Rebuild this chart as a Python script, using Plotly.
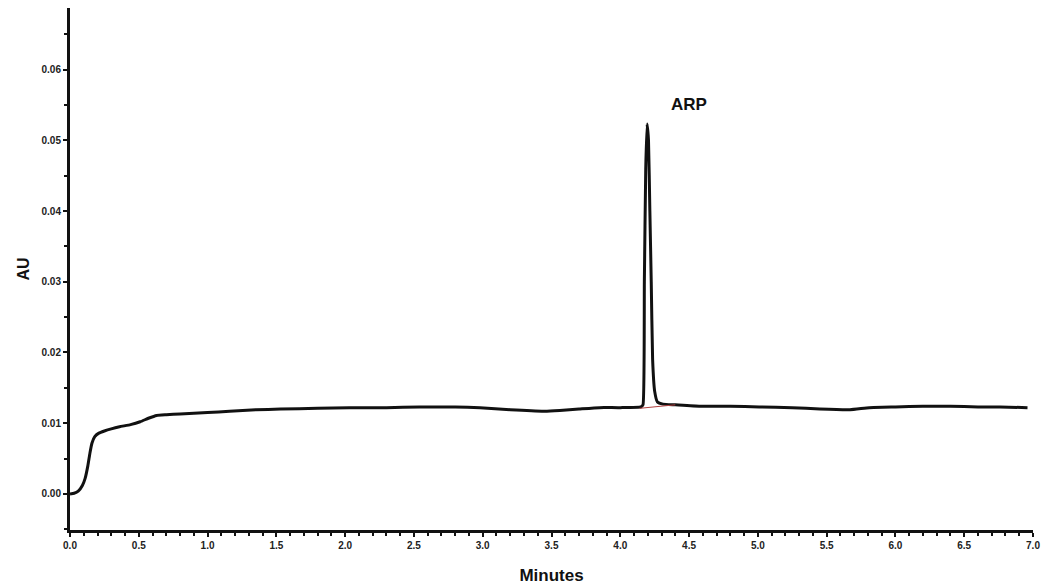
import plotly.graph_objects as go

# chromatogram trace
minutes = [0.0, 0.03, 0.06, 0.09, 0.11, 0.13, 0.145, 0.16, 0.18, 0.21, 0.25, 0.30, 0.36, 0.44,
           0.51, 0.57, 0.63, 0.70, 0.80, 1.0, 1.16, 1.35, 1.53, 1.8, 2.03, 2.3, 2.54, 2.8,
           2.98, 3.2, 3.45, 3.56, 3.7, 3.85, 4.0, 4.15, 4.165, 4.175, 4.185, 4.195, 4.205,
           4.215, 4.225, 4.235, 4.25, 4.27, 4.31, 4.40, 4.58, 4.8, 5.01, 5.25, 5.45, 5.67,
           5.81, 6.0, 6.2, 6.4, 6.6, 6.76, 6.96]
au = [0.0, 0.0001, 0.0004, 0.0012, 0.0022, 0.0040, 0.0058, 0.0072, 0.0081, 0.0086, 0.0089,
      0.0092, 0.0095, 0.0098, 0.0102, 0.0107, 0.0111, 0.0112, 0.0113, 0.0115, 0.0117, 0.0119,
      0.0120, 0.0121, 0.0122, 0.0122, 0.0123, 0.0123, 0.0122, 0.0119, 0.0117, 0.0118, 0.0120,
      0.0122, 0.0122, 0.0123, 0.0126, 0.0300, 0.0460, 0.0523, 0.0500, 0.0400, 0.0300, 0.0190,
      0.0145, 0.0130, 0.0127, 0.0126, 0.0124, 0.0124, 0.0123, 0.0122, 0.0120, 0.0119, 0.0122,
      0.0123, 0.0124, 0.0124, 0.0123, 0.0123, 0.0122]

# integration baseline under the ARP peak
base_x = [4.14, 4.40]
base_y = [0.0121, 0.0126]

x_ticks = [0.0, 0.5, 1.0, 1.5, 2.0, 2.5, 3.0, 3.5, 4.0, 4.5, 5.0, 5.5, 6.0, 6.5, 7.0]
y_ticks = [0.00, 0.01, 0.02, 0.03, 0.04, 0.05, 0.06]

fig = go.Figure()
fig.add_trace(go.Scatter(x=minutes, y=au, mode='lines',
                         line=dict(color='#111111', width=3, shape='spline', smoothing=0.4)))
fig.add_trace(go.Scatter(x=base_x, y=base_y, mode='lines',
                         line=dict(color='#b04040', width=1)))

fig.add_annotation(x=4.50, y=0.0551, text='<b>ARP</b>', showarrow=False,
                   font=dict(family='Arial, Liberation Sans', size=17, color='#111111'))

fig.update_layout(
    width=1045, height=587,
    showlegend=False,
    plot_bgcolor='white',
    paper_bgcolor='white',
    margin=dict(l=70, r=12, t=8, b=57),
    font=dict(family='Arial, Liberation Sans', color='#222222'),
    xaxis=dict(
        range=[0, 7.0], tickvals=x_ticks,
        ticktext=[f"<b>{v:.1f}</b>" for v in x_ticks],
        showgrid=False, zeroline=False, automargin=False,
        showline=True, linecolor='#111111', linewidth=3,
        ticks='outside', ticklen=4, tickwidth=2, tickcolor='#111111',
        tickfont=dict(size=10, color='#222222'),
        minor=dict(dtick=0.1, ticks='outside', ticklen=3, tickcolor='#111111'),
        title=dict(text='<b>Minutes</b>', font=dict(size=17, color='#111111'), standoff=20),
    ),
    yaxis=dict(
        range=[-0.0051, 0.0687], tickvals=y_ticks,
        ticktext=[f"<b>{v:.2f}</b>" for v in y_ticks],
        showgrid=False, zeroline=False, automargin=False,
        showline=True, linecolor='#111111', linewidth=3,
        ticks='outside', ticklen=4, tickwidth=2, tickcolor='#111111',
        tickfont=dict(size=10, color='#222222'),
        minor=dict(dtick=0.005, ticks='outside', ticklen=3, tickcolor='#111111'),
        title=dict(text='<b>AU</b>', font=dict(size=16, color='#111111'), standoff=8),
    ),
)

# page body has a default 8px margin; drop it so the figure fills the window
fig.write_html("out.html", config={'displayModeBar': False},
               post_script="document.body.style.margin='0';")
